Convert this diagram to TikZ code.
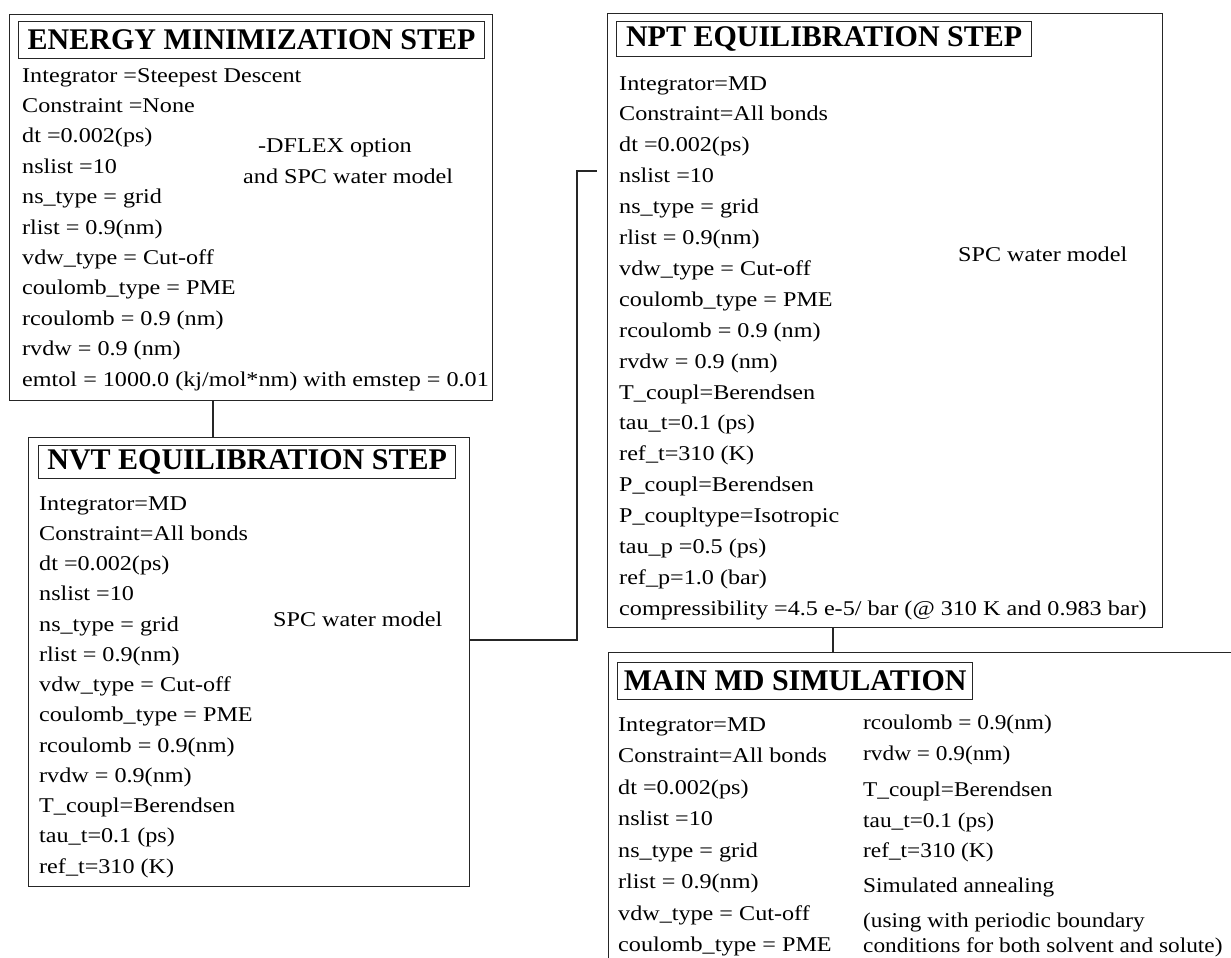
\documentclass[tikz,border=0pt]{standalone}
\usepackage{fontspec}
\setmainfont{Liberation Serif}[FakeStretch=1.15]
\newfontfamily\titlefont{Liberation Serif}
\newfontfamily\narrowfont{Liberation Serif}[FakeStretch=1.11]
\begin{document}
\begin{tikzpicture}[x=1pt,y=-1pt,
  box/.style={draw=black!85, line width=1.4pt, inner sep=0, anchor=north west},
  tbox/.style={draw=black!85, line width=1.3pt, inner sep=0, anchor=north west, font=\titlefont\bfseries\fontsize{30}{32}\selectfont},
  body/.style={anchor=base west, inner sep=0, font=\fontsize{21}{25}\selectfont},
  nbody/.style={anchor=base west, inner sep=0, font=\narrowfont\fontsize{21}{25}\selectfont},
  link/.style={draw=black!85, line width=1.4pt}]
\useasboundingbox (0,0) rectangle (1231,958);

% boxes
\node[box, minimum width=483, minimum height=386] (em) at (9,14) {};
\node[box, minimum width=441, minimum height=449] (nvt) at (28,437) {};
\node[box, minimum width=555, minimum height=614] (npt) at (607,13) {};
\node[box, minimum width=700, minimum height=400] (main) at (608,652) {};

% titles
\node[tbox, minimum width=466, minimum height=37] (emT) at (18,21) {ENERGY MINIMIZATION STEP};
\node[tbox, minimum width=417, minimum height=33] (nvtT) at (38,445) {NVT EQUILIBRATION STEP};
\node[tbox, minimum width=415, minimum height=35] (nptT) at (616,21) {NPT EQUILIBRATION STEP};
\node[tbox, minimum width=355, minimum height=37] (mainT) at (617,662) {MAIN MD SIMULATION};

% energy minimization text
\foreach \t [count=\i from 0] in {Integrator =Steepest Descent, Constraint =None, dt =0.002(ps), nslist =10, ns\_type = grid, rlist = 0.9(nm), vdw\_type = Cut-off, coulomb\_type = PME, rcoulomb = 0.9 (nm), rvdw = 0.9 (nm), emtol = 1000.0 (kj/mol*nm) with emstep = 0.01}
  \node[body, name=emL\i] at (22, 82+30.4*\i) {\t};
\node[body] (emN1) at (258,152) {-DFLEX option};
\node[body] (emN2) at (243,183) {and SPC water model};

% NVT text
\foreach \t [count=\i from 0] in {Integrator=MD, Constraint=All bonds, dt =0.002(ps), nslist =10, ns\_type = grid, rlist = 0.9(nm), vdw\_type = Cut-off, coulomb\_type = PME, rcoulomb = 0.9(nm), rvdw = 0.9(nm), T\_coupl=Berendsen, tau\_t=0.1 (ps), ref\_t=310 (K)}
  \node[body, name=nvtL\i] at (39, 510+30.25*\i) {\t};
\node[body] (nvtN) at (273,626) {SPC water model};

% NPT text
\foreach \t [count=\i from 0] in {Integrator=MD, Constraint=All bonds, dt =0.002(ps), nslist =10, ns\_type = grid, rlist = 0.9(nm), vdw\_type = Cut-off, coulomb\_type = PME, rcoulomb = 0.9 (nm), rvdw = 0.9 (nm), T\_coupl=Berendsen, tau\_t=0.1 (ps), ref\_t=310 (K), P\_coupl=Berendsen, P\_coupltype=Isotropic, tau\_p =0.5 (ps), ref\_p=1.0 (bar), compressibility =4.5 e-5/ bar (@ 310 K and 0.983 bar)}
  \node[body, name=nptL\i] at (619, 90+30.9*\i) {\t};
\node[body] (nptN) at (958,261) {SPC water model};

% main text
\foreach \t [count=\i from 0] in {Integrator=MD, Constraint=All bonds, dt =0.002(ps), nslist =10, ns\_type = grid, rlist = 0.9(nm), vdw\_type = Cut-off, coulomb\_type = PME}
  \node[body, name=mainL\i] at (618, 731+31.5*\i) {\t};
\foreach \y/\t [count=\i from 0] in {729/rcoulomb = 0.9(nm), 760/rvdw = 0.9(nm), 796/T\_coupl=Berendsen, 827/tau\_t=0.1 (ps), 857/ref\_t=310 (K), 892/Simulated annealing, 927/(using with periodic boundary, 952/conditions for both solvent and solute)}
  \node[nbody, name=mainR\i] at (863, \y) {\t};

% connectors
\coordinate (j1) at (213,0);
\draw[link] (em.south -| j1) -- (nvt.north -| j1);
\coordinate (k1) at (577,640);
\coordinate (k2) at (597,171);
\draw[link] (nvt.east |- k1) -- (k1) |- (k2);
\coordinate (j2) at (833,0);
\draw[link] (npt.south -| j2) -- (main.north -| j2);
\end{tikzpicture}
\end{document}
